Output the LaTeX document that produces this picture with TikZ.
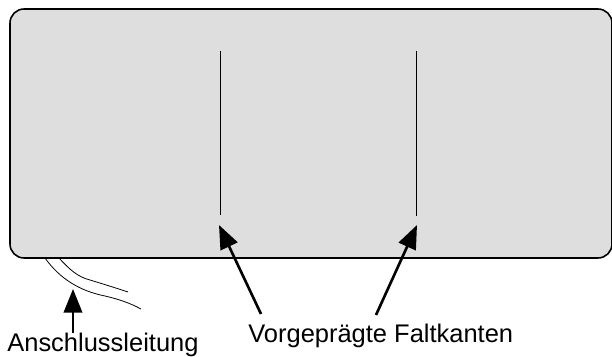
\documentclass[tikz,border=0pt]{standalone}
\usepackage{fontspec}
\setmainfont{Liberation Sans}
\usetikzlibrary{arrows.meta}
\tikzset{
  panel/.style={draw,line width=0.9pt,fill=black!13,rounded corners=8pt},
  labeltext/.style={inner sep=0pt,font=\fontsize{14.5pt}{16pt}\selectfont},
  pointer/.style={-{Triangle[length=13.5pt,width=10.5pt]},line width=1.5pt},
  cable/.style={line width=0.45pt},
  fold/.style={line width=0.45pt}
}
\begin{document}
\begin{tikzpicture}[x=0.02cm,y=-0.02cm]
  \useasboundingbox (0,0) rectangle (612,357);
  \draw[panel] (10,9) rectangle (612,258);
  % fold lines
  \coordinate(F1a) at (220,51);
  \coordinate(F1b) at (220,215);
  \coordinate(F2a) at (416,51);
  \coordinate(F2b) at (416,216);
  \foreach \x/\y in{F1a/F1b,F2a/F2b}{
    \draw[fold](\x)--(\y);
  }
  % cable
  \coordinate(C1a) at (59,258);
  \coordinate(C1b) at (128,292);
  \coordinate(C2a) at (45,258);
  \coordinate(C2b) at (141,309);
  \draw[cable](C1a) .. controls (70,270) and (78,277) .. (90,280) .. controls (103,284) and (116,288) .. (C1b);
  \draw[cable](C2a) .. controls (60,279) and (80,291) .. (105,296) .. controls (118,299) and (130,303) .. (C2b);
  % labels
  \node[labeltext,anchor=base west](LAnschluss) at (7,352) {Anschlussleitung};
  \node[labeltext,anchor=base west](LFalt) at (248,342.5) {Vorgeprägte Faltkanten};
  % pointers
  \coordinate(P1) at (73,333);
  \coordinate(T1) at (73,289);
  \coordinate(P2) at (261,314);
  \coordinate(T2) at (219,225);
  \coordinate(P3) at (376,315);
  \coordinate(T3) at (417,225);
  \foreach \x/\y in{P1/T1,P2/T2,P3/T3}{
    \draw[pointer](\x)--(\y);
  }
\end{tikzpicture}
\end{document}
